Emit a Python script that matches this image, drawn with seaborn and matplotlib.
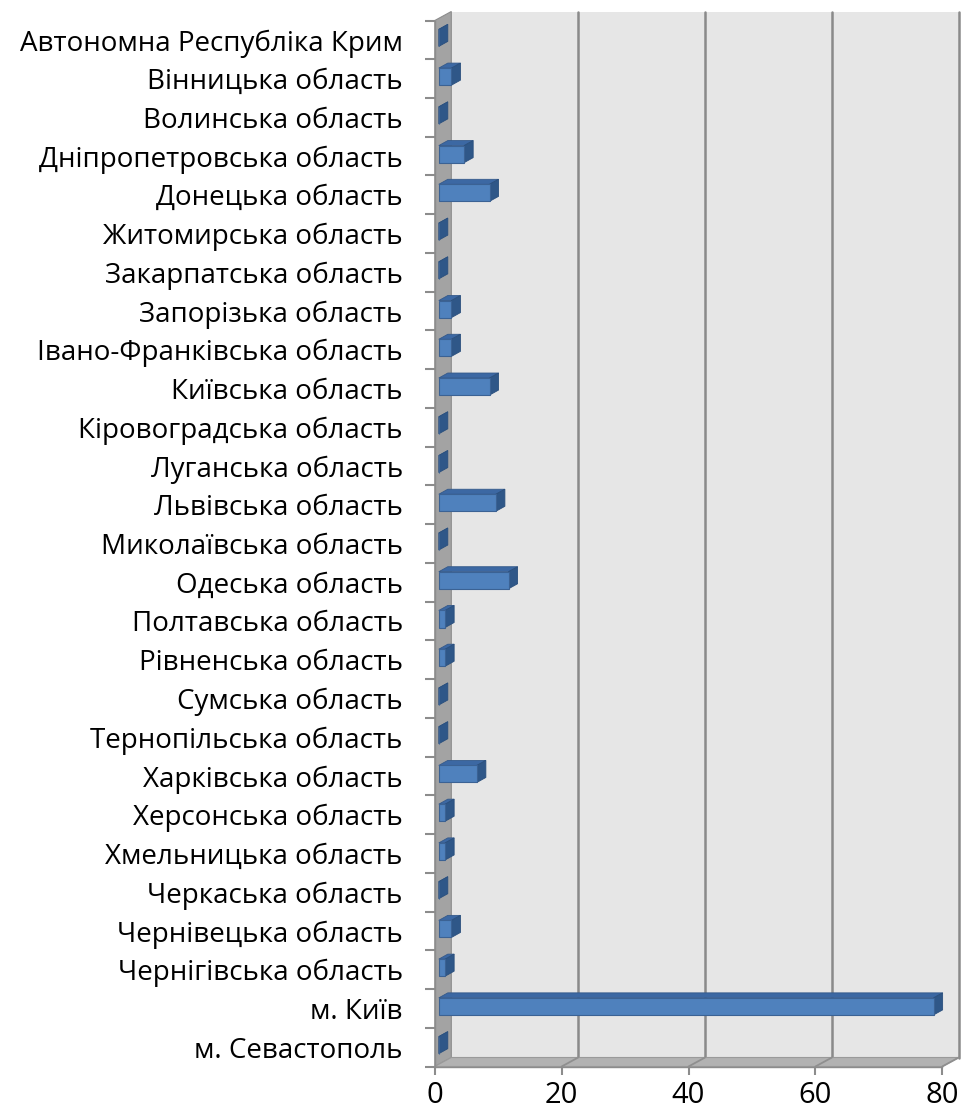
import numpy as np
import pandas as pd
import matplotlib
matplotlib.use("Agg")
import matplotlib.pyplot as plt
import seaborn as sns
from matplotlib.transforms import Affine2D, IdentityTransform
from matplotlib.patches import Polygon
from matplotlib.lines import Line2D

regions = [
    "Автономна Республіка Крим",
    "Вінницька область",
    "Волинська область",
    "Дніпропетровська область",
    "Донецька область",
    "Житомирська область",
    "Закарпатська область",
    "Запорізька область",
    "Івано-Франківська область",
    "Київська область",
    "Кіровоградська область",
    "Луганська область",
    "Львівська область",
    "Миколаївська область",
    "Одеська область",
    "Полтавська область",
    "Рівненська область",
    "Сумська область",
    "Тернопільська область",
    "Харківська область",
    "Херсонська область",
    "Хмельницька область",
    "Черкаська область",
    "Чернівецька область",
    "Чернігівська область",
    "м. Київ",
    "м. Севастополь",
]
counts = [0, 2, 0, 4, 8, 0, 0, 2, 2, 8, 0, 0, 9, 0, 11, 1, 1, 0, 0, 6, 1, 1, 0, 2, 1, 78, 0]
xticks = [0, 20, 40, 60, 80]

sns.set_theme(style="white")
plt.rcParams["font.family"] = ["Open Sans", "DejaVu Sans"]

W, H = 965, 1111
fig = plt.figure(figsize=(W / 100, H / 100), dpi=100)
x0, x1 = 434.8, 942.3
ytop, ybot = 20.5, 1066.5
ax = fig.add_axes([x0 / W, 1 - ybot / H, (x1 - x0) / W, (ybot - ytop) / H])
ax.set_facecolor("none")

df = pd.DataFrame({"region": regions, "count": counts})
sns.barplot(data=df, x="count", y="region", orient="h", color="#4f81bd",
            width=0.44, saturation=1, edgecolor="#3b6294", linewidth=0.8,
            ax=ax, zorder=5)
n = len(regions)
ax.set_xlim(0, 80)
ax.set_ylim(n - 0.5, -0.5)
ax.set_autoscale_on(False)
ax.set_xlabel("")
ax.set_ylabel("")

BACK = (16.5, 9.0)
BAR_OFF = (4.0, 2.0)
DEPTH = (9.0, 5.0)
GRID = "#8a8a8a"


def disp(x, y, off=(0.0, 0.0)):
    p = ax.transData.transform((x, y))
    return (p[0] + off[0], p[1] + off[1])


def add_poly(pts, fc, ec="none", lw=0.0, z=0):
    poly = Polygon(pts, closed=True, facecolor=fc, edgecolor=ec, linewidth=lw,
                   transform=IdentityTransform(), zorder=z, clip_on=False)
    ax.add_artist(poly)


def add_line(p, q, color=GRID, lw=1.8, z=1):
    ln = Line2D([p[0], q[0]], [p[1], q[1]], color=color, linewidth=lw,
                transform=IdentityTransform(), zorder=z, clip_on=False)
    ax.add_artist(ln)


bars = list(ax.patches)
ymin, ymax = -0.5, n - 0.5

# back wall
add_poly([disp(0, ymin, BACK), disp(80, ymin, BACK), disp(80, ymax, BACK), disp(0, ymax, BACK)],
         "#e6e6e6", z=0)
# gridlines on the back wall
for v in xticks[1:]:
    add_line(disp(v, ymin, BACK), disp(v, ymax, BACK), z=1)
# left side wall
add_poly([disp(0, ymin), disp(0, ymax), disp(0, ymax, BACK), disp(0, ymin, BACK)],
         "#a3a3a3", ec="#8c8c8c", lw=0.8, z=1.5)
# floor
add_poly([disp(0, ymax), disp(80, ymax), disp(80, ymax, BACK), disp(0, ymax, BACK)],
         "#b2b2b2", ec="#9a9a9a", lw=0.8, z=1.5)
for v in xticks[1:]:
    add_line(disp(v, ymax), disp(v, ymax, BACK), color="#8f8f8f", lw=1.3, z=1.6)

# 3D bars built from the seaborn bar rectangles
for b in bars:
    bx, by, bw, bh = b.get_x(), b.get_y(), b.get_width(), b.get_height()
    b.set_transform(ax.transData + Affine2D().translate(*BAR_OFF))
    pa = disp(bx, by, BAR_OFF)
    pb = disp(bx, by + bh, BAR_OFF)
    top_y = by if pa[1] > pb[1] else by + bh
    bot_y = by + bh if top_y == by else by
    tl = disp(bx, top_y, BAR_OFF)
    tr = disp(bx + bw, top_y, BAR_OFF)
    br = disp(bx + bw, bot_y, BAR_OFF)
    dx, dy = DEPTH
    add_poly([tl, tr, (tr[0] + dx, tr[1] + dy), (tl[0] + dx, tl[1] + dy)],
             "#3c68a3", ec="#34598a", lw=0.6, z=4)
    add_poly([br, tr, (tr[0] + dx, tr[1] + dy), (br[0] + dx, br[1] + dy)],
             "#2f5788", ec="#2a4f7d", lw=0.6, z=4)

# axes / ticks
for s in ["top", "right"]:
    ax.spines[s].set_visible(False)
ax.spines["left"].set_color("#8c8c8c")
ax.spines["bottom"].set_color("#8c8c8c")
ax.spines["left"].set_linewidth(1.0)
ax.spines["bottom"].set_linewidth(1.0)

ax.set_xticks(xticks)
ax.set_xticklabels([str(v) for v in xticks])
ax.set_yticks(np.arange(-0.5, n, 1.0), minor=True)
ax.tick_params(axis="y", which="major", length=0, pad=23, labelsize=20, labelcolor="#000000")
ax.tick_params(axis="y", which="minor", left=True, length=7.2, width=1.5, color="#8c8c8c")
ax.tick_params(axis="x", which="major", bottom=True, length=5.5, width=1.5, color="#8c8c8c",
               pad=5, labelsize=21, labelcolor="#000000")
ax.grid(False)

fig.savefig("out.png", dpi=100)
